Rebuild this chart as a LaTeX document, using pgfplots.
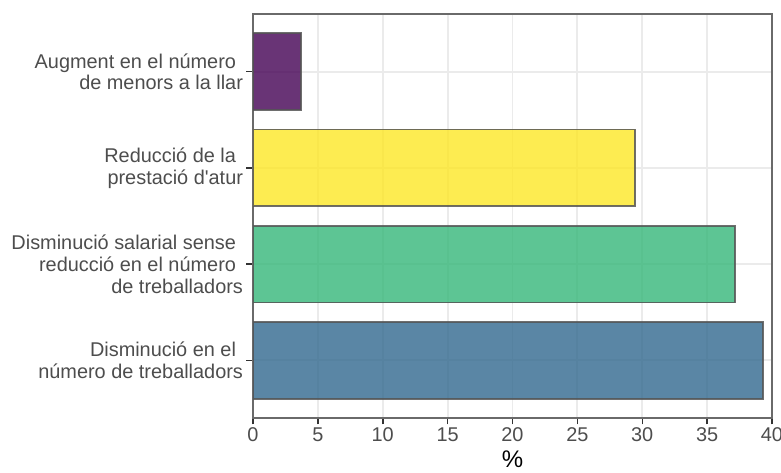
\documentclass[border=0pt]{standalone}
\usepackage{pgfplots}
\pgfplotsset{compat=1.18}
\usepackage{fontspec}
\setmainfont{Liberation Sans}[Ligatures=TeXOff]
\definecolor{cpurple}{HTML}{440154}
\definecolor{cyellow}{HTML}{FDE725}
\definecolor{cgreen}{HTML}{35B779}
\definecolor{cblue}{HTML}{31688E}
\definecolor{gridc}{HTML}{EBEBEB}
\definecolor{txt}{HTML}{4D4D4D}
\definecolor{tickc}{HTML}{333333}
\definecolor{border}{HTML}{6A6A6A}
\definecolor{barline}{HTML}{555555}
\begin{document}
\begin{tikzpicture}
\begin{axis}[
  set layers,
  scale only axis,
  width=519bp, height=404bp,
  xmin=0, xmax=40, ymin=0.4, ymax=4.6,
  xtick={0,5,...,40},
  ytick={1,2,3,4},
  xtick pos=bottom, ytick pos=left,
  yticklabels={
    {Disminució en el\kern0.35em\\número de treballadors},
    {Disminució salarial sense\kern0.35em\\reducció en el número\kern0.35em\\de treballadors},
    {Reducció de la\kern0.35em\\prestació d'atur},
    {Augment en el número\kern0.35em\\de menors a la llar}},
  yticklabel style={align=right, text=txt, font=\fontsize{19.9bp}{21.7bp}\selectfont},
  xticklabel style={text=txt, font=\fontsize{19.9bp}{21.7bp}\selectfont},
  /pgf/number format/assume math mode=true,
  grid=major,
  major grid style={draw=gridc, line width=1.8bp},
  tick align=outside,
  major tick length=6.5bp,
  tick style={draw=tickc, line width=1.5bp},
  axis line style={draw=border, line width=1.9bp},
  xlabel={\%},
  xlabel style={at={(axis description cs:0.5,0)}, anchor=north, yshift=-29bp, font=\fontsize{24bp}{26bp}\selectfont, text=black},
  xbar, bar width=0.8, bar shift=0pt,
]
\addplot[fill=cblue, fill opacity=0.8, draw=barline, draw opacity=0.85, line width=1.8bp] coordinates {(39.28,1)};
\addplot[fill=cgreen, fill opacity=0.8, draw=barline, draw opacity=0.85, line width=1.8bp] coordinates {(37.15,2)};
\addplot[fill=cyellow, fill opacity=0.8, draw=barline, draw opacity=0.85, line width=1.8bp] coordinates {(29.42,3)};
\addplot[fill=cpurple, fill opacity=0.8, draw=barline, draw opacity=0.85, line width=1.8bp] coordinates {(3.70,4)};
\end{axis}
\pgfresetboundingbox
\path[use as bounding box] (-253bp,-55bp) rectangle (528bp,418bp);
\end{tikzpicture}
\end{document}
